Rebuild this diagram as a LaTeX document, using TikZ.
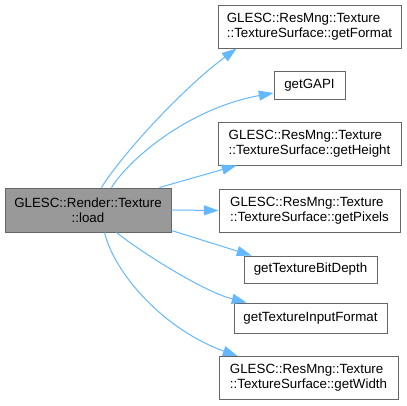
\documentclass[tikz,border=0pt]{standalone}
\usepackage{fontspec}
\setmainfont{Liberation Sans}
\usetikzlibrary{arrows.meta,calc}
\definecolor{edgeblue}{HTML}{63B8FF}
\definecolor{boxgray}{HTML}{666666}
\definecolor{mainfill}{HTML}{999999}
\begin{document}
\begin{tikzpicture}[x=0.75pt,y=-0.75pt,
  box/.style={draw=boxgray,line width=0.75pt,fill=white,inner sep=0pt,font=\fontsize{10}{11.25}\selectfont},
  leftbox/.style={box,align=left},
  edge/.style={draw=edgeblue,line width=0.75pt,-{Triangle[length=11pt,width=7.5pt,fill=edgeblue]}}]
\fill[white] (0,0) rectangle (407,405);
\useasboundingbox (0,0) rectangle (407,405);
\node[box,fill=mainfill,align=center,minimum width=124.5pt,minimum height=33pt] (main) at (88,210) {GLESC::Render::Texture\\::load};
\node[leftbox,minimum width=137.25pt,minimum height=32.25pt] (fmt) at (309.5,26.5) {GLESC::ResMng::Texture\\::TextureSurface::getFormat};
\node[box,minimum width=53.25pt,minimum height=21pt] (gapi) at (309.5,85) {getGAPI};
\node[leftbox,minimum width=137.25pt,minimum height=32.25pt] (height) at (309.5,143.5) {GLESC::ResMng::Texture\\::TextureSurface::getHeight};
\node[leftbox,minimum width=135.75pt,minimum height=32.25pt] (pixels) at (309.5,210.5) {GLESC::ResMng::Texture\\::TextureSurface::getPixels};
\node[box,minimum width=99.75pt,minimum height=20.25pt] (bitdepth) at (310.5,269.5) {getTextureBitDepth};
\node[box,minimum width=114.75pt,minimum height=22.5pt] (inputfmt) at (310.5,318) {getTextureInputFormat};
\node[leftbox,minimum width=134.25pt,minimum height=32.25pt] (width) at (308.5,378) {GLESC::ResMng::Texture\\::TextureSurface::getWidth};
\draw[edge] ($(main.north west)+(97,0)$) .. controls (118,160) and (178,92) .. ($(fmt.south west)+(19,0)$);
\draw[edge] ($(main.north west)+(107,0)$) .. controls (130,158) and (190,108) .. ($(gapi.west)+(0,8)$);
\draw[edge] ($(main.north west)+(155,0)$) -- ($(height.south west)+(19,0)$);
\draw[edge] (main.east) -- (pixels.west);
\draw[edge] ($(main.south east)+(0,-2)$) -- ($(bitdepth.north west)+(8,0)$);
\draw[edge] ($(main.south west)+(112,0)$) .. controls (145,255) and (205,292) .. ($(inputfmt.north west)+(13,0)$);
\draw[edge] ($(main.south west)+(100,0)$) .. controls (115,275) and (165,330) .. ($(width.north west)+(19,0)$);
\end{tikzpicture}
\end{document}
